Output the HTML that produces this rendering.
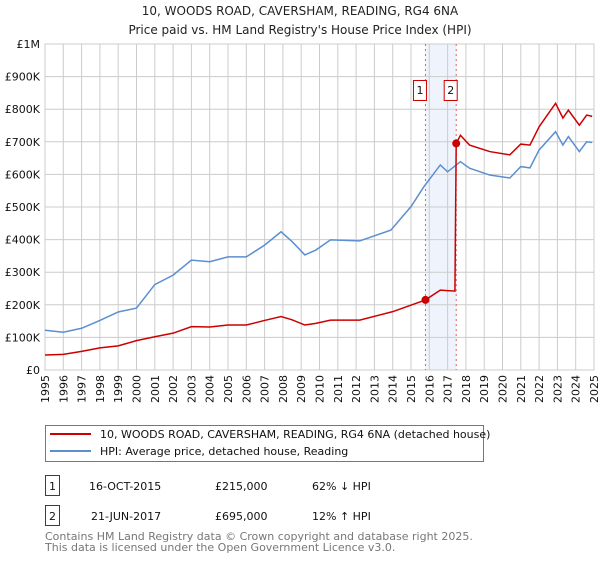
<!DOCTYPE html>
<html><head><meta charset="utf-8"><style>
body{margin:0;background:#fff;font-family:"DejaVu Sans","Liberation Sans",sans-serif;}
svg text{font-family:"DejaVu Sans","Liberation Sans",sans-serif;}
</style></head><body>
<svg id="c" width="600" height="560" xmlns="http://www.w3.org/2000/svg">
<text x="300" y="15" text-anchor="middle" font-size="12" fill="#222">10, WOODS ROAD, CAVERSHAM, READING, RG4 6NA</text>
<text x="300" y="34" text-anchor="middle" font-size="12" fill="#222">Price paid vs. HM Land Registry's House Price Index (HPI)</text>
<g id="grid"></g><g id="marks"></g><g id="axes"></g>
<g>
<rect x="45.5" y="425.5" width="438" height="36" fill="#fff" stroke="#777"/>
<line x1="50" y1="434" x2="91" y2="434" stroke="#cc0000" stroke-width="2"/>
<text x="100" y="438" font-size="11" fill="#111">10, WOODS ROAD, CAVERSHAM, READING, RG4 6NA (detached house)</text>
<line x1="50" y1="451" x2="91" y2="451" stroke="#5b8fd0" stroke-width="2"/>
<text x="100" y="455" font-size="11" fill="#111">HPI: Average price, detached house, Reading</text>
</g>
<g>
<rect x="45.5" y="475.5" width="14" height="20" fill="#fff" stroke="#cc0000"/>
<text x="52.5" y="490" text-anchor="middle" font-size="11" fill="#111">1</text>
<text x="89" y="490" font-size="11" fill="#111">16-OCT-2015</text>
<text x="215" y="490" font-size="11" fill="#111">£215,000</text>
<text x="312" y="490" font-size="11" fill="#111">62% ↓ HPI</text>
<rect x="45.5" y="505.5" width="14" height="20" fill="#fff" stroke="#cc0000"/>
<text x="52.5" y="520" text-anchor="middle" font-size="11" fill="#111">2</text>
<text x="91" y="520" font-size="11" fill="#111">21-JUN-2017</text>
<text x="215" y="520" font-size="11" fill="#111">£695,000</text>
<text x="312" y="520" font-size="11" fill="#111">12% ↑ HPI</text>
</g>
<text x="45" y="540" font-size="11" fill="#777">Contains HM Land Registry data © Crown copyright and database right 2025.</text>
<text x="45" y="551" font-size="11" fill="#777">This data is licensed under the Open Government Licence v3.0.</text>
</svg>
<script>
const hpiDates=[1995,1996,1997,1998,1999,2000,2001,2002,2003,2004,2005,2006,2007,2007.9,2008.5,2009.2,2009.8,2010.6,2012.2,2013.9,2015,2015.7,2016.6,2017,2017.7,2018.2,2019.3,2020.4,2021,2021.5,2022,2022.9,2023.3,2023.6,2024.2,2024.6,2024.9];
const hpiValues=[122,116,128,152,178,190,262,291,337,332,347,347,383,424,394,353,368,399,396,429,501,562,629,608,639,619,598,589,624,620,675,731,690,716,670,700,698];
const priceDates=[1995,1996,1997,1998,1999,2000,2001,2002,2003,2004,2005,2006,2007,2007.9,2008.5,2009.2,2009.8,2010.6,2012.2,2014,2015.79,2016.6,2017.4,2017.47,2017.7,2018.2,2019.3,2020.4,2021,2021.5,2022,2022.9,2023.3,2023.6,2024.2,2024.6,2024.9];
const priceValues=[46,48,57,68,74,90,102,113,133,132,138,138,152,164,154,138,143,153,153,179,215,245,242,695,720,690,670,660,693,690,746,818,773,797,751,782,778];
const sales=[{n:"1",d:2015.79,v:215},{n:"2",d:2017.47,v:695}];
const yTicks=[0,100,200,300,400,500,600,700,800,900,1000];
const yLabels=["£0","£100K","£200K","£300K","£400K","£500K","£600K","£700K","£800K","£900K","£1M"];
const L=45,R=594,T=44,B=370;
const X=d=>L+(d-1995)/30*(R-L);
const Y=v=>B-v/1000*(B-T);
const NS="http://www.w3.org/2000/svg";
function mk(p,t,a){const e=document.createElementNS(NS,t);for(const k in a)e.setAttribute(k,a[k]);p.appendChild(e);return e;}
const grid=document.getElementById('grid'),marks=document.getElementById('marks'),axes=document.getElementById('axes');
const bg=mk(grid,'rect',{x:L,y:T,width:R-L,height:B-T,fill:'#fff',stroke:'#ccc'});


const sh=mk(grid,'rect',{x:X(sales[0].d),y:T,width:X(sales[1].d)-X(sales[0].d),height:B-T,fill:'#eef3fc'});


for(let yr=1995;yr<=2025;yr++){
 const gl=mk(grid,'line',{x1:X(yr),x2:X(yr),y1:T,y2:B,stroke:'#ccc'});
 
 
 const tx=X(yr)+4,ty=375;
 const t=mk(axes,'text',{x:tx,y:ty,'text-anchor':'end','font-size':'11',fill:'#111',transform:'rotate(-90 '+tx+' '+ty+')'});
 t.textContent=yr;
 
 
}
yTicks.forEach((v,i)=>{
 const gl=mk(grid,'line',{x1:L,x2:R,y1:Y(v),y2:Y(v),stroke:'#ccc'});
 
 
 const t=mk(axes,'text',{x:40,y:Y(v)+4,'text-anchor':'end','font-size':'11',fill:'#111'});
 t.textContent=yLabels[i];
 
 
});
sales.forEach(s=>{
 const vl=mk(marks,'line',{x1:X(s.d),x2:X(s.d),y1:T,y2:B,stroke:'#e06060','stroke-dasharray':'2,3','stroke-width':'1'});
 
 
});
const hp=mk(marks,'polyline',{points:hpiDates.map((d,i)=>X(d)+','+Y(hpiValues[i])).join(' '),fill:'none',stroke:'#5b8fd0','stroke-width':'1.5'});


const pp=mk(marks,'polyline',{points:priceDates.map((d,i)=>X(d)+','+Y(priceValues[i])).join(' '),fill:'none',stroke:'#cc0000','stroke-width':'1.5'});


sales.forEach(s=>{
 const c=mk(marks,'circle',{cx:X(s.d),cy:Y(s.v),r:4,fill:'#cc0000'});
 
 
 const bx=mk(marks,'rect',{x:X(s.d)-12,y:80.5,width:13,height:20,fill:'#fff',stroke:'#cc0000'});
 
 
 const t=mk(marks,'text',{x:X(s.d)-5.5,y:94,'text-anchor':'middle','font-size':'11',fill:'#111'});
 t.textContent=s.n;
});
</script>
</body></html>
